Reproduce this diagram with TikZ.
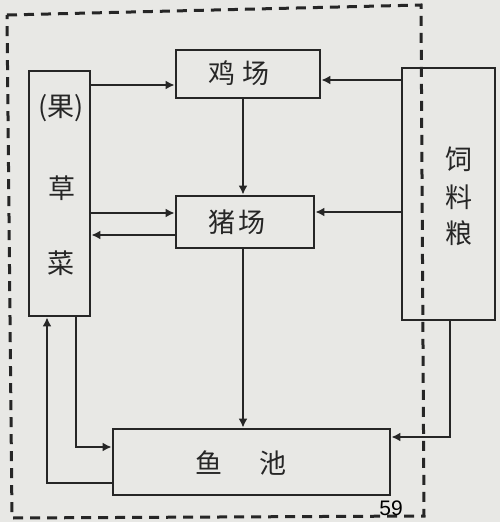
\documentclass[tikz,border=0pt]{standalone}
\usepackage{fontspec}
\newfontfamily\cjk{Noto Sans CJK SC}
\setmainfont{Liberation Sans}
\usetikzlibrary{arrows.meta}
\definecolor{bg}{HTML}{E8E8E5}
\definecolor{ink}{HTML}{262626}
\tikzset{
  box/.style={draw=ink, line width=2.8pt, fill=none, inner sep=0pt},
  txt/.style={font=\cjk\fontsize{27}{30}\selectfont, text=ink, inner sep=0pt},
  arr/.style={draw=ink, line width=2.6pt, -{Latex[length=9pt,width=9pt]}},
  outline/.style={draw=ink, line width=3pt, dash pattern=on 10pt off 7pt}
}
\begin{document}
\begin{tikzpicture}[x=1pt,y=-1pt]
\useasboundingbox (0,0) rectangle (500,522);
\fill[bg] (0,0) rectangle (500,522);
% dashed frame
\draw[outline] (7,15) -- (421,5) -- (424,516) -- (12,518) -- cycle;
% boxes
\node[box, minimum width=61pt, minimum height=245pt] (cao) at (59.5,193.5) {};
\node[box, minimum width=144pt, minimum height=48pt] (ji) at (248,74) {};
\node[box, minimum width=138pt, minimum height=52pt] (zhu) at (245,222) {};
\node[box, minimum width=93pt, minimum height=252pt] (si) at (448.5,194) {};
\node[box, minimum width=277pt, minimum height=66pt] (yu) at (251.5,462) {};
% texts
\node[txt] (t1) at (61,108) {(果)};
\node[txt] (t2) at (62,188) {草};
\node[txt] (t3) at (61,263) {菜};
\node[txt] (t4) at (239,73) {鸡\hspace{8pt}场};
\node[txt] (t5) at (237,222) {猪\hspace{4pt}场};
\node[txt] (t6) at (209,463) {鱼};
\node[txt] (t7) at (273,463) {池};
\node[txt] (t8) at (459,159) {饲};
\node[txt] (t9) at (459,197) {料};
\node[txt] (t10) at (459,233) {粮};
\node[font=\fontsize{21}{24}\selectfont, text=black, inner sep=0pt] (pg) at (391,508) {59};
% connectors
\draw[arr] (cao.east |- 0,85) -- (ji.west |- 0,85);
\draw[arr] (si.west |- 0,80) -- (ji.east |- 0,80);
\draw[arr] (si.west |- 0,212) -- (zhu.east |- 0,212);
\draw[arr] (cao.east |- 0,213) -- (zhu.west |- 0,213);
\draw[arr] (zhu.west |- 0,235) -- (cao.east |- 0,235);
\draw[arr] (ji.south -| 243,0) -- (zhu.north -| 243,0);
\draw[arr] (zhu.south -| 243,0) -- (yu.north -| 243,0);
\draw[arr] (cao.south -| 76,0) |- (yu.west |- 0,447);
\draw[arr] (yu.west |- 0,483) -| (cao.south -| 47,0);
\draw[arr] (si.south -| 450,0) |- (yu.east |- 0,437);
\end{tikzpicture}
\end{document}
